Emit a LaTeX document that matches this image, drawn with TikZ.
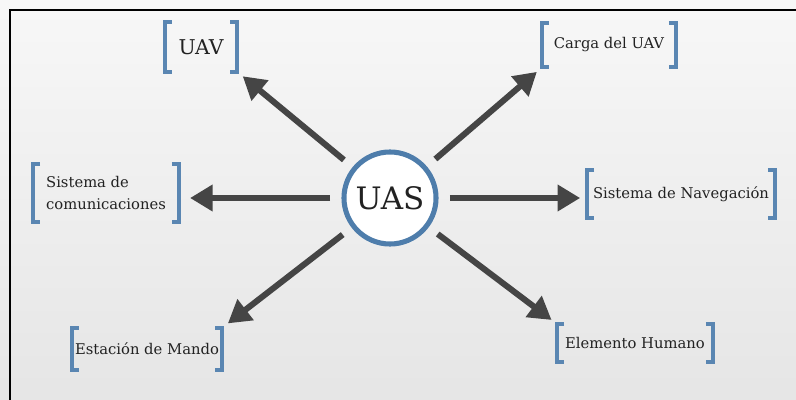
\documentclass[tikz,border=0pt]{standalone}
\usepackage{fontspec}
\setmainfont{DejaVu Serif}
\usetikzlibrary{arrows.meta}

\definecolor{bracketblue}{HTML}{5A86B2}
\definecolor{ringblue}{HTML}{4E7DAB}
\definecolor{spokegrey}{HTML}{454545}
\definecolor{textgrey}{HTML}{222222}

\tikzset{
    itembox/.style={inner sep=0pt, text=textgrey, font=\fontsize{10.5}{15}\selectfont},
    bracket/.style={draw=bracketblue, line width=2.8pt},
    hub/.style={circle, draw=ringblue, line width=3.6pt, fill=white, minimum size=2.3cm,
        text=textgrey, font=\fontsize{22}{24}\selectfont},
    spoke/.style={draw=spokegrey, line width=4.3pt, -{Triangle[length=16pt,width=18pt]},
        shorten <=8pt, shorten >=5pt}
}

\begin{document}
\begin{tikzpicture}[x=0.025cm,y=-0.025cm]
    % background and frame
    \useasboundingbox (0,0) rectangle (796,400);
    \shade[top color=white!97!black, bottom color=white!90!black] (0,0) rectangle (796,400);
    \draw[line width=2.1pt] (10,10) rectangle (812,412);

    \node[hub] (uas) at (390,198) {UAS};

    \node[itembox, minimum width=1.8cm, minimum height=1.225cm, font=\fontsize{14.5}{16}\selectfont] (uav) at (201,47) {UAV};
    \node[itembox, minimum width=3.325cm, minimum height=1.1cm] (carga) at (609,45) {Carga del UAV};
    \node[itembox, minimum width=3.625cm, minimum height=1.425cm, align=left] (comun) at (106,193) {Sistema de\\comunicaciones};
    \node[itembox, minimum width=4.675cm, minimum height=1.2cm] (nav) at (681,194) {Sistema de Navegación};
    \node[itembox, minimum width=3.75cm, minimum height=1.05cm] (estacion) at (147,349) {Estación de Mando};
    \node[itembox, minimum width=3.875cm, minimum height=0.925cm] (humano) at (635,343) {Elemento Humano};

    % brackets round the labels
    \foreach \n in {uav,carga,comun,nav,estacion,humano}
        \draw[bracket] ([xshift=5pt]\n.north west) -| (\n.south west) -- ++(5pt,0)
                       ([xshift=-5pt]\n.north east) -| (\n.south east) -- ++(-5pt,0);

    % arrows
    \draw[spoke] (uas) -- (uav.south east);
    \draw[spoke] (uas) -- (carga.south west);
    \draw[spoke, shorten >=8pt] (uas.west) -- (comun.east |- uas.west);
    \draw[spoke] (uas.east) -- (nav.west |- uas.east);
    \draw[spoke] (uas) -- (estacion.north east);
    \draw[spoke] (uas) -- (humano.north west);
\end{tikzpicture}
\end{document}
